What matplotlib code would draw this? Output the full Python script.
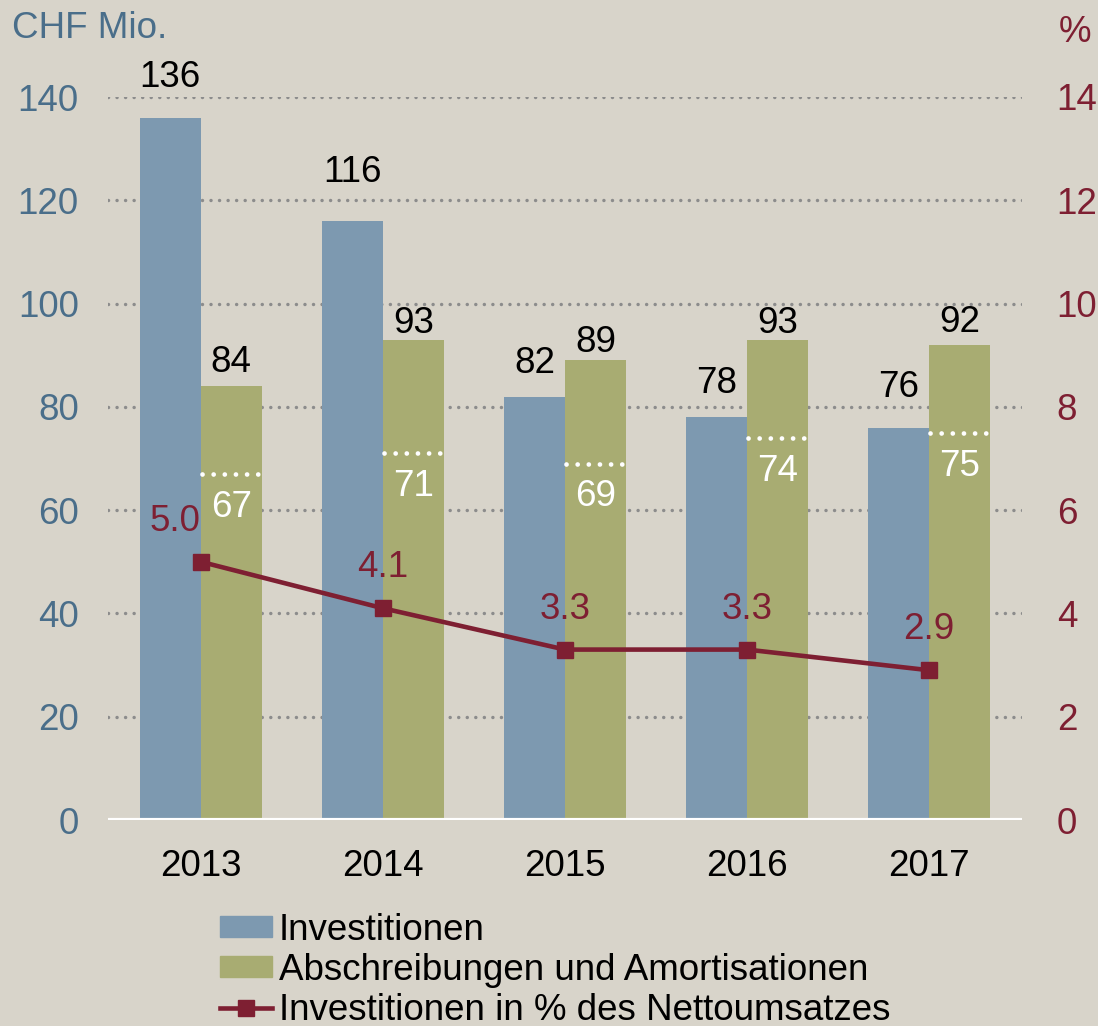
import matplotlib
matplotlib.use("Agg")
import matplotlib.pyplot as plt
import numpy as np
from matplotlib.patches import Patch
from matplotlib.lines import Line2D

years = ["2013", "2014", "2015", "2016", "2017"]
investitionen = [136, 116, 82, 78, 76]
abschreibungen = [84, 93, 89, 93, 92]
abschreibungen_sub = [67, 71, 69, 74, 75]
invest_pct = [5.0, 4.1, 3.3, 3.3, 2.9]

BG = "#D8D4CA"
BLUE = "#7D99B0"
GREEN = "#A8AC72"
RED = "#7E1F32"
LBLUE = "#4A6E8A"
GRID = "#8C8C8C"

plt.rcParams['font.family'] = ['Liberation Sans', 'DejaVu Sans']
FS = 26.5

fig = plt.figure(figsize=(10.98, 10.26), dpi=100, facecolor=BG)
ax = fig.add_axes([108/1098, 206/1026, 914/1098, 723/1026])
ax.set_facecolor(BG)
ax2 = ax.twinx()

x = np.arange(len(years))
w = 0.335
ax.set_xlim(-0.51, 4.51)
ax.set_ylim(0, 140)
ax2.set_ylim(0, 14)

# grid
for v in range(20, 141, 20):
    ax.axhline(v, color=GRID, lw=2.5, linestyle=(0, (0.01, 2.45)),
               dash_capstyle='round', zorder=1)

ax.bar(x - w/2, investitionen, w, color=BLUE, zorder=2)
ax.bar(x + w/2, abschreibungen, w, color=GREEN, zorder=2)
ax.axhline(0, color="white", lw=3, zorder=3)

# white dotted sub lines
for xi, v in zip(x, abschreibungen_sub):
    ax.plot([xi + 0.005, xi + w - 0.01], [v, v], color="white", lw=3.4,
            linestyle=(0, (0.01, 2.35)), dash_capstyle='round', zorder=4)
    ax.annotate(f"{v}", (xi + w/2, v), xytext=(0, -24), textcoords="offset points",
                ha="center", va="center", color="white", fontsize=FS, zorder=5)

blue_off = [29, 35, 24, 24, 29]
green_off = [17, 12, 13, 12, 16]
for xi, v, o in zip(x, investitionen, blue_off):
    ax.annotate(f"{v}", (xi - w/2, v), xytext=(0, o), textcoords="offset points",
                ha="center", va="center", color="black", fontsize=FS, zorder=5)
for xi, v, o in zip(x, abschreibungen, green_off):
    ax.annotate(f"{v}", (xi + w/2, v), xytext=(0, o), textcoords="offset points",
                ha="center", va="center", color="black", fontsize=FS, zorder=5)

ax2.plot(x, invest_pct, color=RED, lw=3.3, marker="s", markersize=11, zorder=6)
red_xoff = [-19, 0, 0, 0, 0]
for xi, v, xo in zip(x, invest_pct, red_xoff):
    ax2.annotate(f"{v:.1f}", (xi, v), xytext=(xo, 29), textcoords="offset points",
                 ha="center", va="center", color=RED, fontsize=FS, zorder=7)

for a in (ax, ax2):
    for s in a.spines.values():
        s.set_visible(False)

ax.set_yticks(range(0, 141, 20))
ax.tick_params(axis="y", length=0, pad=21, labelsize=FS, labelcolor=LBLUE)
ax2.set_yticks(range(0, 15, 2))
ax2.tick_params(axis="y", length=0, pad=25, labelsize=FS, labelcolor=RED)
ax.set_xticks(x)
ax.set_xticklabels(years)
ax.tick_params(axis="x", length=0, pad=21, labelsize=FS, labelcolor="black")

fig.text(12/1098, 1 - 28/1026, "CHF Mio.", color=LBLUE, fontsize=FS, ha="left", va="center")
fig.text(1075/1098, 1 - 32/1026, "%", color=RED, fontsize=FS, ha="center", va="center")

handles = [Patch(color=BLUE), Patch(color=GREEN),
           Line2D([], [], color=RED, lw=3.3, marker="s", markersize=11)]
labels = ["Investitionen", "Abschreibungen und Amortisationen",
          "Investitionen in % des Nettoumsatzes"]
fig.legend(handles, labels, loc="upper left", bbox_to_anchor=(220/1098, 1 - 913/1026),
           frameon=False, fontsize=FS, handlelength=1.4, handleheight=0.5,
           handletextpad=0.2, labelspacing=0.13, borderaxespad=0, borderpad=0)

fig.savefig("out.png", dpi=100, facecolor=BG)
